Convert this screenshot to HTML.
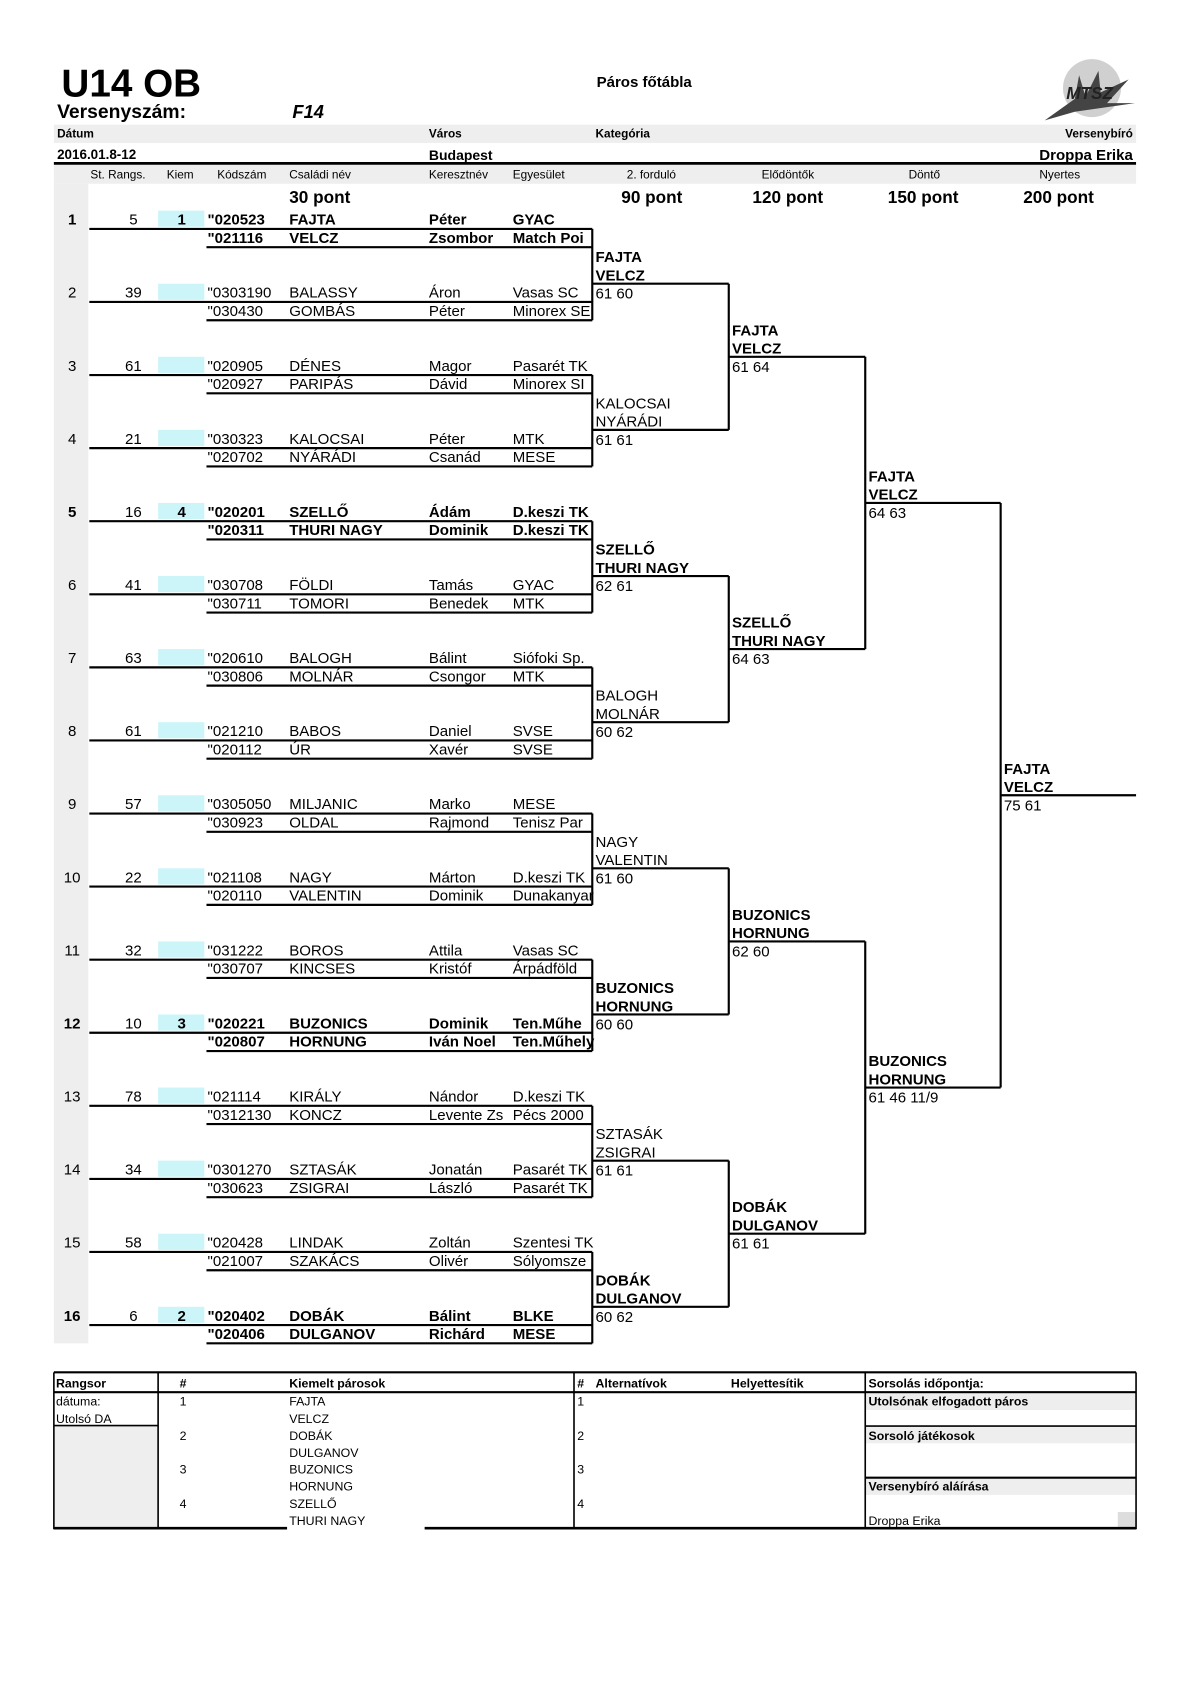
<!DOCTYPE html>
<html><head><meta charset="utf-8"><style>
html,body{margin:0;padding:0;background:#fff;}
svg{display:block;}
text{font-family:"Liberation Sans",Arial,sans-serif;fill:#000;}
.r{font-size:14px;}
.b{font-weight:bold;}
.s{font-size:11px;}
.t{font-size:11.5px;}
</style></head><body>
<svg width="1191" height="1684" viewBox="0 0 1108 1567" xmlns="http://www.w3.org/2000/svg">
<!-- header -->
<text x="57" y="90" style="font-size:36px;font-weight:bold">U14 OB</text>
<text x="53" y="110" style="font-size:18px;font-weight:bold">Versenyszám:</text>
<text x="272" y="110" style="font-size:17px;font-weight:bold;font-style:italic">F14</text>
<text x="555" y="81" style="font-size:14px;font-weight:bold">Páros főtábla</text>
<!-- logo -->
<circle cx="1016" cy="82" r="27" fill="#d0d0d0"/>
<path d="M972 112 L1000 92 L1004 70 L1010 90 L1022 66 L1024 86 L1050 74 L1030 96 L1056 96 L1000 104 Z" fill="#444"/>
<text x="992" y="92" style="font-size:16px;font-weight:bold;font-style:italic;fill:#222">MTSZ</text>
<!-- bands -->
<rect x="50" y="116" width="1007" height="17" fill="#eeeeee"/>
<text x="53" y="128" class="s b">Dátum</text>
<text x="399" y="128" class="s b">Város</text>
<text x="554" y="128" class="s b">Kategória</text>
<text x="1054" y="128" class="s b" text-anchor="end">Versenybíró</text>
<text x="53" y="148" style="font-size:12.5px;font-weight:bold">2016.01.8-12</text>
<text x="399" y="149" style="font-size:13px;font-weight:bold">Budapest</text>
<text x="1054" y="149" style="font-size:14px;font-weight:bold" text-anchor="end">Droppa Erika</text>
<rect x="50" y="153" width="1007" height="18" fill="#eeeeee"/>
<line x1="50" y1="152" x2="1057" y2="152" stroke="#000" stroke-width="2.5"/>
<rect x="50" y="171" width="32" height="1079" fill="#eeeeee"/>
<g class="s">
<text x="84" y="166">St. Rangs.</text><text x="155" y="166">Kiem</text><text x="202" y="166">Kódszám</text>
<text x="269" y="166">Családi név</text><text x="399" y="166">Keresztnév</text><text x="477" y="166">Egyesület</text>
<text x="606" y="166" text-anchor="middle">2. forduló</text><text x="733" y="166" text-anchor="middle">Elődöntők</text>
<text x="860" y="166" text-anchor="middle">Döntő</text><text x="986" y="166" text-anchor="middle">Nyertes</text>
</g>
<g style="font-size:16px;font-weight:bold">
<text x="269" y="189">30 pont</text><text x="578" y="189">90 pont</text><text x="700" y="189">120 pont</text>
<text x="826" y="189">150 pont</text><text x="952" y="189">200 pont</text>
</g>

<!-- rows -->
<g class="r">
<!-- template: Y = 204 + 68(k-1) -->
<g transform="translate(0,204)" class="b"><rect x="147" y="-8" width="43" height="15" fill="#ccf5fa"/><text x="67" y="5" text-anchor="middle">1</text><text x="124" y="5" text-anchor="middle" style="font-weight:normal">5</text><text x="169" y="5" text-anchor="middle">1</text>
<text x="193" y="5">"020523</text><text x="269" y="5">FAJTA</text><text x="399" y="5">Péter</text><text x="477" y="5">GYAC</text>
<text x="193" y="22">"021116</text><text x="269" y="22">VELCZ</text><text x="399" y="22">Zsombor</text><text x="477" y="22">Match Poi</text></g>

<g transform="translate(0,272)"><rect x="147" y="-8" width="43" height="15" fill="#ccf5fa"/><text x="67" y="5" text-anchor="middle">2</text><text x="124" y="5" text-anchor="middle">39</text>
<text x="193" y="5">"0303190</text><text x="269" y="5">BALASSY</text><text x="399" y="5">Áron</text><text x="477" y="5">Vasas SC</text>
<text x="193" y="22">"030430</text><text x="269" y="22">GOMBÁS</text><text x="399" y="22">Péter</text><text x="477" y="22">Minorex SE</text></g>

<g transform="translate(0,340)"><rect x="147" y="-8" width="43" height="15" fill="#ccf5fa"/><text x="67" y="5" text-anchor="middle">3</text><text x="124" y="5" text-anchor="middle">61</text>
<text x="193" y="5">"020905</text><text x="269" y="5">DÉNES</text><text x="399" y="5">Magor</text><text x="477" y="5">Pasarét TK</text>
<text x="193" y="22">"020927</text><text x="269" y="22">PARIPÁS</text><text x="399" y="22">Dávid</text><text x="477" y="22">Minorex SI</text></g>

<g transform="translate(0,408)"><rect x="147" y="-8" width="43" height="15" fill="#ccf5fa"/><text x="67" y="5" text-anchor="middle">4</text><text x="124" y="5" text-anchor="middle">21</text>
<text x="193" y="5">"030323</text><text x="269" y="5">KALOCSAI</text><text x="399" y="5">Péter</text><text x="477" y="5">MTK</text>
<text x="193" y="22">"020702</text><text x="269" y="22">NYÁRÁDI</text><text x="399" y="22">Csanád</text><text x="477" y="22">MESE</text></g>

<g transform="translate(0,476)" class="b"><rect x="147" y="-8" width="43" height="15" fill="#ccf5fa"/><text x="67" y="5" text-anchor="middle">5</text><text x="124" y="5" text-anchor="middle" style="font-weight:normal">16</text><text x="169" y="5" text-anchor="middle">4</text>
<text x="193" y="5">"020201</text><text x="269" y="5">SZELLŐ</text><text x="399" y="5">Ádám</text><text x="477" y="5">D.keszi TK</text>
<text x="193" y="22">"020311</text><text x="269" y="22">THURI NAGY</text><text x="399" y="22">Dominik</text><text x="477" y="22">D.keszi TK</text></g>

<g transform="translate(0,544)"><rect x="147" y="-8" width="43" height="15" fill="#ccf5fa"/><text x="67" y="5" text-anchor="middle">6</text><text x="124" y="5" text-anchor="middle">41</text>
<text x="193" y="5">"030708</text><text x="269" y="5">FÖLDI</text><text x="399" y="5">Tamás</text><text x="477" y="5">GYAC</text>
<text x="193" y="22">"030711</text><text x="269" y="22">TOMORI</text><text x="399" y="22">Benedek</text><text x="477" y="22">MTK</text></g>

<g transform="translate(0,612)"><rect x="147" y="-8" width="43" height="15" fill="#ccf5fa"/><text x="67" y="5" text-anchor="middle">7</text><text x="124" y="5" text-anchor="middle">63</text>
<text x="193" y="5">"020610</text><text x="269" y="5">BALOGH</text><text x="399" y="5">Bálint</text><text x="477" y="5">Siófoki Sp.</text>
<text x="193" y="22">"030806</text><text x="269" y="22">MOLNÁR</text><text x="399" y="22">Csongor</text><text x="477" y="22">MTK</text></g>

<g transform="translate(0,680)"><rect x="147" y="-8" width="43" height="15" fill="#ccf5fa"/><text x="67" y="5" text-anchor="middle">8</text><text x="124" y="5" text-anchor="middle">61</text>
<text x="193" y="5">"021210</text><text x="269" y="5">BABOS</text><text x="399" y="5">Daniel</text><text x="477" y="5">SVSE</text>
<text x="193" y="22">"020112</text><text x="269" y="22">ÚR</text><text x="399" y="22">Xavér</text><text x="477" y="22">SVSE</text></g>

<g transform="translate(0,748)"><rect x="147" y="-8" width="43" height="15" fill="#ccf5fa"/><text x="67" y="5" text-anchor="middle">9</text><text x="124" y="5" text-anchor="middle">57</text>
<text x="193" y="5">"0305050</text><text x="269" y="5">MILJANIC</text><text x="399" y="5">Marko</text><text x="477" y="5">MESE</text>
<text x="193" y="22">"030923</text><text x="269" y="22">OLDAL</text><text x="399" y="22">Rajmond</text><text x="477" y="22">Tenisz Par</text></g>

<g transform="translate(0,816)"><rect x="147" y="-8" width="43" height="15" fill="#ccf5fa"/><text x="67" y="5" text-anchor="middle">10</text><text x="124" y="5" text-anchor="middle">22</text>
<text x="193" y="5">"021108</text><text x="269" y="5">NAGY</text><text x="399" y="5">Márton</text><text x="477" y="5">D.keszi TK</text>
<text x="193" y="22">"020110</text><text x="269" y="22">VALENTIN</text><text x="399" y="22">Dominik</text><text x="477" y="22">Dunakanyar</text></g>

<g transform="translate(0,884)"><rect x="147" y="-8" width="43" height="15" fill="#ccf5fa"/><text x="67" y="5" text-anchor="middle">11</text><text x="124" y="5" text-anchor="middle">32</text>
<text x="193" y="5">"031222</text><text x="269" y="5">BOROS</text><text x="399" y="5">Attila</text><text x="477" y="5">Vasas SC</text>
<text x="193" y="22">"030707</text><text x="269" y="22">KINCSES</text><text x="399" y="22">Kristóf</text><text x="477" y="22">Árpádföld</text></g>

<g transform="translate(0,952)" class="b"><rect x="147" y="-8" width="43" height="15" fill="#ccf5fa"/><text x="67" y="5" text-anchor="middle">12</text><text x="124" y="5" text-anchor="middle" style="font-weight:normal">10</text><text x="169" y="5" text-anchor="middle">3</text>
<text x="193" y="5">"020221</text><text x="269" y="5">BUZONICS</text><text x="399" y="5">Dominik</text><text x="477" y="5">Ten.Műhe</text>
<text x="193" y="22">"020807</text><text x="269" y="22">HORNUNG</text><text x="399" y="22">Iván Noel</text><text x="477" y="22">Ten.Műhely</text></g>

<g transform="translate(0,1020)"><rect x="147" y="-8" width="43" height="15" fill="#ccf5fa"/><text x="67" y="5" text-anchor="middle">13</text><text x="124" y="5" text-anchor="middle">78</text>
<text x="193" y="5">"021114</text><text x="269" y="5">KIRÁLY</text><text x="399" y="5">Nándor</text><text x="477" y="5">D.keszi TK</text>
<text x="193" y="22">"0312130</text><text x="269" y="22">KONCZ</text><text x="399" y="22">Levente Zs</text><text x="477" y="22">Pécs 2000</text></g>

<g transform="translate(0,1088)"><rect x="147" y="-8" width="43" height="15" fill="#ccf5fa"/><text x="67" y="5" text-anchor="middle">14</text><text x="124" y="5" text-anchor="middle">34</text>
<text x="193" y="5">"0301270</text><text x="269" y="5">SZTASÁK</text><text x="399" y="5">Jonatán</text><text x="477" y="5">Pasarét TK</text>
<text x="193" y="22">"030623</text><text x="269" y="22">ZSIGRAI</text><text x="399" y="22">László</text><text x="477" y="22">Pasarét TK</text></g>

<g transform="translate(0,1156)"><rect x="147" y="-8" width="43" height="15" fill="#ccf5fa"/><text x="67" y="5" text-anchor="middle">15</text><text x="124" y="5" text-anchor="middle">58</text>
<text x="193" y="5">"020428</text><text x="269" y="5">LINDAK</text><text x="399" y="5">Zoltán</text><text x="477" y="5">Szentesi TK</text>
<text x="193" y="22">"021007</text><text x="269" y="22">SZAKÁCS</text><text x="399" y="22">Olivér</text><text x="477" y="22">Sólyomsze</text></g>

<g transform="translate(0,1224)" class="b"><rect x="147" y="-8" width="43" height="15" fill="#ccf5fa"/><text x="67" y="5" text-anchor="middle">16</text><text x="124" y="5" text-anchor="middle" style="font-weight:normal">6</text><text x="169" y="5" text-anchor="middle">2</text>
<text x="193" y="5">"020402</text><text x="269" y="5">DOBÁK</text><text x="399" y="5">Bálint</text><text x="477" y="5">BLKE</text>
<text x="193" y="22">"020406</text><text x="269" y="22">DULGANOV</text><text x="399" y="22">Richárd</text><text x="477" y="22">MESE</text></g>
</g>

<!-- round1 lines -->
<g stroke="#000" stroke-width="2" fill="none">
<path d="M83 213H551M192 230H551M83 281H551M192 298H551M551 213V298"/>
<path d="M83 349H551M192 366H551M83 417H551M192 434H551M551 349V434"/>
<path d="M83 485H551M192 502H551M83 553H551M192 570H551M551 485V570"/>
<path d="M83 621H551M192 638H551M83 689H551M192 706H551M551 621V706"/>
<path d="M83 757H551M192 774H551M83 825H551M192 842H551M551 757V842"/>
<path d="M83 893H551M192 910H551M83 961H551M192 978H551M551 893V978"/>
<path d="M83 1029H551M192 1046H551M83 1097H551M192 1114H551M551 1029V1114"/>
<path d="M83 1165H551M192 1182H551M83 1233H551M192 1250H551M551 1165V1250"/>
<!-- round2 -->
<path d="M551 264H678M551 400H678M678 264V400"/>
<path d="M551 536H678M551 672H678M678 536V672"/>
<path d="M551 808H678M551 944H678M678 808V944"/>
<path d="M551 1080H678M551 1216H678M678 1080V1216"/>
<!-- round3 -->
<path d="M678 332H805M678 604H805M805 332V604"/>
<path d="M678 876H805M678 1148H805M805 876V1148"/>
<!-- round4 -->
<path d="M805 468H931M805 1012H931M931 468V1012"/>
<path d="M931 740H1057"/>
</g>

<!-- round texts -->
<g class="r">
<g transform="translate(554,264)" class="b"><text y="-20">FAJTA</text><text y="-3">VELCZ</text><text y="14" style="font-weight:normal">61 60</text></g>
<g transform="translate(554,400)"><text y="-20">KALOCSAI</text><text y="-3">NYÁRÁDI</text><text y="14">61 61</text></g>
<g transform="translate(554,536)" class="b"><text y="-20">SZELLŐ</text><text y="-3">THURI NAGY</text><text y="14" style="font-weight:normal">62 61</text></g>
<g transform="translate(554,672)"><text y="-20">BALOGH</text><text y="-3">MOLNÁR</text><text y="14">60 62</text></g>
<g transform="translate(554,808)"><text y="-20">NAGY</text><text y="-3">VALENTIN</text><text y="14">61 60</text></g>
<g transform="translate(554,944)" class="b"><text y="-20">BUZONICS</text><text y="-3">HORNUNG</text><text y="14" style="font-weight:normal">60 60</text></g>
<g transform="translate(554,1080)"><text y="-20">SZTASÁK</text><text y="-3">ZSIGRAI</text><text y="14">61 61</text></g>
<g transform="translate(554,1216)" class="b"><text y="-20">DOBÁK</text><text y="-3">DULGANOV</text><text y="14" style="font-weight:normal">60 62</text></g>

<g transform="translate(681,332)" class="b"><text y="-20">FAJTA</text><text y="-3">VELCZ</text><text y="14" style="font-weight:normal">61 64</text></g>
<g transform="translate(681,604)" class="b"><text y="-20">SZELLŐ</text><text y="-3">THURI NAGY</text><text y="14" style="font-weight:normal">64 63</text></g>
<g transform="translate(681,876)" class="b"><text y="-20">BUZONICS</text><text y="-3">HORNUNG</text><text y="14" style="font-weight:normal">62 60</text></g>
<g transform="translate(681,1148)" class="b"><text y="-20">DOBÁK</text><text y="-3">DULGANOV</text><text y="14" style="font-weight:normal">61 61</text></g>

<g transform="translate(808,468)" class="b"><text y="-20">FAJTA</text><text y="-3">VELCZ</text><text y="14" style="font-weight:normal">64 63</text></g>
<g transform="translate(808,1012)" class="b"><text y="-20">BUZONICS</text><text y="-3">HORNUNG</text><text y="14" style="font-weight:normal">61 46 11/9</text></g>

<g transform="translate(934,740)" class="b"><text y="-20">FAJTA</text><text y="-3">VELCZ</text><text y="14" style="font-weight:normal">75 61</text></g>
</g>

<!-- bottom table -->
<rect x="50" y="1327" width="97" height="95" fill="#eeeeee"/>
<rect x="805" y="1297" width="252" height="15" fill="#eeeeee"/>
<rect x="805" y="1328" width="252" height="15" fill="#eeeeee"/>
<rect x="805" y="1376" width="252" height="15" fill="#eeeeee"/>
<rect x="1040" y="1407" width="17" height="15" fill="#dddddd"/>
<g stroke="#000" fill="none">
<path d="M50 1277H1057" stroke-width="2"/>
<path d="M50 1295.5H1057" stroke-width="2"/>
<path d="M50 1277V1423M147 1277V1423M534 1277V1423M805 1277V1423M1057 1277V1423" stroke-width="1.5"/>
<path d="M50 1326.5H147M805 1327H1057" stroke-width="1.5"/>
<path d="M805 1375H1057" stroke-width="2"/>
<path d="M50 1422H267M395 1422H1057" stroke-width="2.5"/>
</g>
<g class="t">
<text x="52" y="1291" class="b">Rangsor</text><text x="167" y="1291" class="b">#</text><text x="269" y="1291" class="b">Kiemelt párosok</text>
<text x="537" y="1291" class="b">#</text><text x="554" y="1291" class="b">Alternatívok</text><text x="680" y="1291" class="b">Helyettesítik</text>
<text x="808" y="1291" class="b">Sorsolás időpontja:</text>
<text x="52" y="1308">dátuma:</text><text x="52" y="1324">Utolsó DA</text>
<text x="167" y="1308">1</text><text x="269" y="1308">FAJTA</text><text x="269" y="1324">VELCZ</text>
<text x="167" y="1340">2</text><text x="269" y="1340">DOBÁK</text><text x="269" y="1356">DULGANOV</text>
<text x="167" y="1371">3</text><text x="269" y="1371">BUZONICS</text><text x="269" y="1387">HORNUNG</text>
<text x="167" y="1403">4</text><text x="269" y="1403">SZELLŐ</text><text x="269" y="1419">THURI NAGY</text>
<text x="537" y="1308">1</text><text x="537" y="1340">2</text><text x="537" y="1371">3</text><text x="537" y="1403">4</text>
<text x="808" y="1308" class="b">Utolsónak elfogadott páros</text>
<text x="808" y="1340" class="b">Sorsoló játékosok</text>
<text x="808" y="1387" class="b">Versenybíró aláírása</text>
<text x="808" y="1419">Droppa Erika</text>
</g>
</svg>
</body></html>
